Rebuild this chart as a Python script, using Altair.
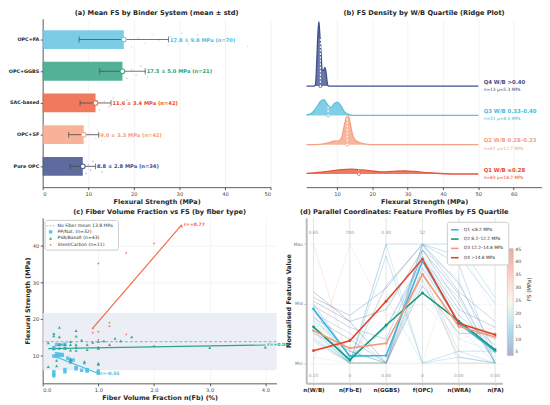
import json
import altair as alt
import pandas as pd

FONT = "DejaVu Sans"
INK = "#262626"
GREY = "#444444"

# ======================= (a) Mean FS by binder =======================
binders = ["OPC+FA", "OPC+GGBS", "SAC-based", "OPC+SF", "Pure OPC"]
binder_mean = [17.8, 17.5, 11.6, 9.0, 8.8]
binder_std = [9.8, 5.0, 3.4, 3.3, 2.8]
binder_n = [70, 21, 42, 42, 34]
binder_fill = ["#6ec6e2", "#3fa98c", "#ef6b4d", "#f7aa8f", "#4d5b95"]
binder_text = ["#52bce0", "#1f9f7d", "#e8492d", "#f59a7b", "#3b4d8c"]

# individual specimens visible beside the bars (MPa)
raw_fa = [19.5, 21.0, 22.5, 24.0, 25.5, 27.5, 28.0, 29.0, 30.5, 31.5, 32.0, 34.0, 40.5, 45.0]
raw_ggbs = [18.5, 19.5, 20.5, 21.5, 22.5, 23.0]
raw_sac = [12.5, 13.5, 14.5, 15.5, 16.5, 17.5, 18.5]
raw_sf = [9.5, 10.5, 11.5, 12.0, 12.5, 13.0]
raw_opc = [9.5, 10.0, 10.5, 11.0, 12.0, 13.0]

# ======================= (b) ridge densities =========================
q_names = ["Q1", "Q2", "Q3", "Q4"]
q_labels = ["Q1  W/B \u22640.28", "Q2  W/B 0.28\u20130.33", "Q3  W/B 0.33\u20130.40", "Q4  W/B >0.40"]
q_sub = ["n=83   \u03bc=18.2 MPa", "n=62   \u03bc=12.7 MPa", "n=51   \u03bc=8.0 MPa", "n=13   \u03bc=5.3 MPa"]
q_colors = ["#e8553a", "#f6a083", "#5cc2e0", "#3e4f8e"]
q_text = ["#e8492d", "#f4a07f", "#46b9dd", "#3b4d8c"]
q1_x = [1.4, 4.7, 8.5, 11.3, 14.1, 16.9, 19.7, 22.5, 25.4, 29.1, 31.9, 35.7, 40.4, 45.0, 50.0]
q1_d = [0.01, 0.025, 0.049, 0.069, 0.074, 0.063, 0.049, 0.034, 0.04, 0.049, 0.04, 0.019, 0.004, 0.0, 0.0]
q2_x = [1.4, 3.7, 6.6, 8.5, 9.4, 10.3, 11.3, 12.0, 12.7, 13.2, 13.7, 14.3, 15.0, 16.4, 18.8, 19.6, 50.0]
q2_d = [0.0, 0.0, 0.015, 0.044, 0.059, 0.054, 0.107, 0.28, 0.43, 0.45, 0.35, 0.18, 0.084, 0.034, 0.004, 0.0, 0.0]
q3_x = [1.4, 2.8, 4.2, 5.4, 6.3, 7.3, 8.3, 9.2, 10.0, 11.1, 12.2, 13.6, 14.9, 50.0]
q3_d = [0.01, 0.034, 0.12, 0.22, 0.245, 0.17, 0.12, 0.18, 0.205, 0.15, 0.05, 0.01, 0.0, 0.0]
q4_x = [1.4, 3.6, 3.94, 4.3, 4.6, 4.88, 5.15, 5.45, 5.82, 6.2, 6.57, 6.9, 7.32, 7.6, 50.0]
q4_d = [0.0, 0.0, 0.03, 0.41, 0.81, 1.0, 0.81, 0.56, 0.25, 0.24, 0.29, 0.22, 0.03, 0.0, 0.0]
q_mark = [16.2, 12.9, 7.5, 5.3]
q_mark_d = [0.065, 0.44, 0.15, 0.74]

# ======================= (c) fibre volume vs FS ======================
no_fiber_mean = 13.8
no_fiber_std = 7.8
pp_x = [0.2, 0.2, 0.2, 0.2, 0.2, 0.2, 0.25, 0.25, 0.25, 0.25, 0.3, 0.3, 0.3, 0.35, 0.35,
        0.4, 0.4, 0.4, 0.4, 0.45, 0.5, 0.5, 0.6, 0.6, 0.7, 0.8, 0.8, 0.8, 1.0, 1.0, 1.0, 0.55]
pp_y = [11.9, 9.9, 5.6, 5.0, 4.5, 12.2, 13.0, 10.5, 10.0, 9.8, 10.4, 10.0, 13.0, 10.3, 10.1,
        13.1, 12.0, 6.2, 5.6, 9.3, 8.9, 8.2, 6.8, 6.4, 6.0, 6.2, 5.8, 6.0, 5.4, 5.8, 5.2, 8.8]
pva_x = [0.1, 0.1, 0.2, 0.2, 0.2, 0.25, 0.25, 0.3, 0.3, 0.3, 0.3, 0.4, 0.4, 0.5, 0.5, 0.5, 0.5, 0.5,
         0.6, 0.6, 0.6, 0.6, 0.6, 0.7, 0.75, 0.75, 0.8, 0.8, 0.9, 1.0, 1.0, 1.0, 1.0, 1.0,
         1.1, 1.2, 1.3, 1.4, 1.6, 2.0, 3.0, 4.0, 0.35]
pva_y = [13.5, 7.0, 16.0, 15.4, 12.0, 8.7, 7.2, 17.7, 15.1, 13.0, 12.0, 13.0, 12.1, 13.8, 13.0, 11.5, 8.5, 9.0,
         16.8, 15.3, 13.0, 11.4, 12.3, 14.2, 8.0, 8.4, 13.0, 11.6, 13.6, 13.8, 12.3, 12.0, 7.9, 7.6,
         14.0, 13.0, 14.7, 14.0, 15.1, 12.7, 12.2, 12.3, 13.1]
st_x = [0.9, 0.9, 1.0, 1.0, 1.0, 1.2, 1.2, 1.5, 1.5, 2.0, 2.5]
st_y = [17.4, 16.2, 35.1, 16.5, 14.3, 19.0, 18.0, 38.0, 15.8, 40.6, 45.2]
fiber_series = ["No Fiber mean  13.8 MPa", "PP/Nat.  (n=32)", "PVA/Basalt  (n=43)", "Steel/Carbon  (n=11)"]
fiber_colors = ["#8f94b8", "#4fc0e6", "#27a385", "#ef5b3b"]
fit_x0 = [0.2, 0.1, 0.9]
fit_x1 = [1.0, 4.0, 2.5]
fit_y0 = [9.9, 11.9, 17.5]
fit_y1 = [5.1, 12.9, 45.7]
fit_r = ["r=-0.55", "r=+0.06", "r=+0.77"]
fit_colors = ["#45b9e0", "#2aa788", "#f0643f"]

# ======================= (d) parallel coordinates ====================
features = ["n(W/B)", "n(Fb-E)", "n(GGBS)", "f(OPC)", "n(WRA)", "n(FA)"]
feat_max = ["0.65", "200", "0.30", "52", "", ""]
feat_min = ["0.15", "0", "0.00", "0", "0.00", "0.00"]
quart_names = ["Q1  \u22648.2 MPa", "Q2  8.2\u201312.2 MPa", "Q3  12.2\u201314.8 MPa", "Q4  >14.8 MPa"]
quart_colors = ["#3cb6df", "#149a78", "#f79877", "#e5432b"]
quart_vals = [
    [0.455, 0.059, 0.064, 0.858, 0.334, 0.099],
    [0.305, 0.027, 0.318, 0.589, 0.353, 0.112],
    [0.273, 0.126, 0.166, 0.746, 0.308, 0.220],
    [0.104, 0.188, 0.519, 0.874, 0.334, 0.238],
]
sample_fs = [6, 5, 8, 12, 14, 16, 18, 20, 11, 15, 9, 7, 32, 30, 19, 22, 13, 17, 10, 24, 13, 4, 28, 12, 15]
sample_vals = [
    [0.55, 0.40, 0.63, 1.00, 0.67, 0.10],
    [0.52, 0.35, 0.45, 0.95, 0.58, 0.00],
    [0.48, 0.30, 0.20, 0.90, 0.45, 0.30],
    [0.45, 0.00, 0.00, 1.00, 0.83, 0.00],
    [0.40, 0.00, 1.00, 1.00, 1.00, 0.55],
    [0.35, 0.00, 1.00, 0.00, 0.05, 0.00],
    [0.30, 0.00, 0.00, 1.00, 0.30, 0.00],
    [0.28, 0.00, 0.00, 0.85, 0.20, 0.10],
    [0.25, 0.10, 0.00, 0.80, 0.35, 0.20],
    [0.22, 0.00, 0.00, 0.75, 0.10, 0.00],
    [0.20, 0.00, 0.65, 1.00, 0.60, 0.35],
    [0.38, 0.20, 0.00, 0.95, 0.50, 0.00],
    [1.00, 0.00, 0.00, 0.80, 0.00, 0.00],
    [0.02, 1.00, 0.40, 0.50, 0.20, 0.30],
    [0.33, 0.00, 0.55, 0.00, 0.00, 0.00],
    [0.30, 0.00, 0.00, 0.00, 1.00, 0.40],
    [0.42, 0.25, 0.00, 0.70, 0.05, 0.00],
    [0.18, 0.00, 0.00, 0.95, 0.70, 0.00],
    [0.50, 0.05, 0.30, 0.88, 0.40, 0.15],
    [0.15, 0.00, 0.00, 1.00, 0.15, 0.05],
    [0.27, 0.00, 0.90, 0.00, 0.10, 0.10],
    [0.60, 0.35, 0.00, 0.65, 0.25, 0.25],
    [0.05, 0.00, 0.00, 0.90, 0.00, 0.00],
    [0.36, 0.10, 0.00, 1.00, 0.90, 0.50],
    [0.25, 0.00, 0.30, 0.85, 0.55, 0.00],
]
fs_domain = [3.8, 9.0, 14.2, 19.4, 24.6, 29.8, 35.0, 40.2, 45.4]
fs_range = ["#2b3f80", "#3a78b4", "#48acd3", "#97d3e3", "#f3efe6", "#f8c2a6", "#f28f6f", "#e4583c", "#cf2f22"]

# ----------------------------------------------------------------------
W_A, W_B, W_C, W_D = 230, 238, 236, 198
H_TOP, H_BOT = 170, 167
IND = dict(color="independent", stroke="independent", shape="independent", size="independent")

# ---------- panel (a) ----------
n_b = len(binders)
dfa = pd.DataFrame({
    "binder": binders,
    "pos": [n_b - 1 - i for i in range(n_b)],
    "mean": binder_mean, "std": binder_std, "n": binder_n, "tcol": binder_text,
})
raw_all = [raw_fa, raw_ggbs, raw_sac, raw_sf, raw_opc]
prow = []
for i, vals in enumerate(raw_all):
    for k, v in enumerate(vals):
        prow.append({"binder": binders[i], "pos": n_b - 1 - i, "v": v, "k": k})
dfp = pd.DataFrame(prow)

names_rev = json.dumps(list(reversed(binders)))
bind_scale = alt.Scale(domain=binders, range=binder_fill)


def xa(field):
    return alt.X(field, scale=alt.Scale(domain=[0, 50], nice=False),
                 axis=alt.Axis(values=[0, 10, 20, 30, 40, 50], title="Flexural Strength (MPa)", grid=True))


def ya(field):
    return alt.Y(field, scale=alt.Scale(domain=[-0.5, 4.5], nice=False, zero=False),
                 axis=alt.Axis(values=[0, 1, 2, 3, 4], labelExpr=names_rev + "[datum.value]", title=None,
                               grid=False, labelFontWeight="bold", labelFontSize=4.9, labelColor=INK))


pts_a = alt.Chart(dfp).transform_calculate(
    yj="datum.pos + ((datum.k * 0.618034) % 1 - 0.5) * 0.45"
).mark_circle(size=3, opacity=0.35).encode(
    x=xa("v:Q"), y=ya("yj:Q"), color=alt.Color("binder:N", scale=bind_scale, legend=None))

base_a = alt.Chart(dfa).transform_calculate(
    zero="0", lo="datum.mean - datum.std", hi="datum.mean + datum.std",
    lab="format(datum.mean, '.1f') + ' \u00b1 ' + format(datum.std, '.1f') + ' MPa  (n=' + datum.n + ')'")
bars = base_a.mark_bar(orient="horizontal", size=19, opacity=0.9).encode(
    x=xa("mean:Q"), x2="zero:Q", y=ya("pos:Q"),
    color=alt.Color("binder:N", scale=bind_scale, legend=None))
err = base_a.mark_rule(color="#4a4a4a", opacity=0.75, strokeWidth=1.1).encode(
    x="lo:Q", x2="hi:Q", y="pos:Q")
cap_lo = base_a.mark_tick(orient="vertical", size=6, thickness=1, color="#4a4a4a").encode(x="lo:Q", y="pos:Q")
cap_hi = base_a.mark_tick(orient="vertical", size=6, thickness=1, color="#4a4a4a").encode(x="hi:Q", y="pos:Q")
means = base_a.mark_point(filled=True, fill="white", size=22, strokeWidth=1.1, opacity=1).encode(
    x="mean:Q", y="pos:Q", stroke=alt.Stroke("binder:N", scale=bind_scale, legend=None))
labs_a = base_a.mark_text(align="left", baseline="middle", dx=1.5, fontSize=5.2, fontWeight="bold").encode(
    x="hi:Q", y="pos:Q", text="lab:N", color=alt.Color("tcol:N", scale=None))

panel_a = alt.layer(pts_a, bars, err, cap_lo, cap_hi, means, labs_a).properties(
    width=W_A, height=H_TOP, title="(a) Mean FS by Binder System  (mean \u00b1 std)")

# ---------- panel (b) ----------
rrows = []
for qi, (xs, ds) in enumerate([(q1_x, q1_d), (q2_x, q2_d), (q3_x, q3_d), (q4_x, q4_d)]):
    for xv, dv in zip(xs, ds):
        rrows.append({"q": q_names[qi], "base": qi, "x": xv, "d": dv})
dfr = pd.DataFrame(rrows)
dfm = pd.DataFrame({"q": q_names, "base": list(range(4)), "m": q_mark, "md": q_mark_d,
                    "lab": q_labels, "sub": q_sub, "tcol": q_text})
RIDGE_K = 2.2
q_scale = alt.Scale(domain=q_names, range=q_colors)
xb = alt.X("x:Q", scale=alt.Scale(domain=[1.3, 68], nice=False, zero=False),
           axis=alt.Axis(values=[10, 20, 30, 40, 50, 60], title="Flexural Strength (MPa)", grid=True))
yb_scale = alt.Scale(domain=[-0.45, 5.3], nice=False, zero=False)

rbase = alt.Chart(dfr).transform_calculate(top="datum.base + datum.d * %s" % RIDGE_K)
r_area = rbase.mark_area(interpolate="monotone", opacity=0.78).encode(
    x=xb, y=alt.Y("top:Q", scale=yb_scale, axis=None), y2="base:Q",
    color=alt.Color("q:N", scale=q_scale, legend=None))
r_line = rbase.mark_line(interpolate="monotone", strokeWidth=1.3).encode(
    x="x:Q", y="top:Q", color=alt.Color("q:N", scale=q_scale, legend=None))
mbase = alt.Chart(dfm).transform_calculate(mtop="datum.base + datum.md * %s" % RIDGE_K, lx="51.5")
r_dash = mbase.mark_rule(color="white", strokeDash=[2, 1.5], strokeWidth=1.1).encode(
    x="m:Q", y="base:Q", y2="mtop:Q")
r_mark = mbase.mark_point(filled=True, fill="white", size=9, strokeWidth=0.8, opacity=1).encode(
    x="m:Q", y="base:Q", stroke=alt.Stroke("q:N", scale=q_scale, legend=None))
r_lab = mbase.mark_text(align="left", baseline="bottom", dy=-1.5, fontSize=5.4, fontWeight="bold").encode(
    x="lx:Q", y="base:Q", text="lab:N", color=alt.Color("tcol:N", scale=None))
r_sub = mbase.mark_text(align="left", baseline="top", dy=2, fontSize=4.4).encode(
    x="lx:Q", y="base:Q", text="sub:N", color=alt.Color("tcol:N", scale=None))

panel_b = alt.layer(r_area, r_line, r_dash, r_mark, r_lab, r_sub).properties(
    width=W_B, height=H_TOP, title="(b) FS Density by W/B Quartile  (Ridge Plot)")

# ---------- panel (c) ----------
crow = []
for s, xs, ys in [(fiber_series[1], pp_x, pp_y), (fiber_series[2], pva_x, pva_y), (fiber_series[3], st_x, st_y)]:
    for xv, yv in zip(xs, ys):
        crow.append({"series": s, "x": xv, "y": yv})
dfc = pd.DataFrame(crow)
frow = []
for i in range(3):
    frow.append({"fid": i, "end": 0, "x": fit_x0[i], "y": fit_y0[i], "fcol": fit_colors[i], "r": fit_r[i]})
    frow.append({"fid": i, "end": 1, "x": fit_x1[i], "y": fit_y1[i], "fcol": fit_colors[i], "r": fit_r[i]})
dff = pd.DataFrame(frow)
dfn = pd.DataFrame({"m": [no_fiber_mean], "lo": [no_fiber_mean - no_fiber_std], "hi": [no_fiber_mean + no_fiber_std]})

xc = alt.X("x:Q", scale=alt.Scale(domain=[0, 4.2], nice=False, zero=False),
           axis=alt.Axis(values=[0, 0.5, 1, 1.5, 2, 2.5, 3, 3.5, 4], format=".1f",
                         title="Fiber Volume Fraction  n(Fb)  (%)", grid=True))
yc_scale = alt.Scale(domain=[2.45, 47.55], nice=False, zero=False)
yc_axis = alt.Axis(values=[10, 20, 30, 40], title="Flexural Strength (MPa)", grid=True)

dash_path = "M-2.2,-0.18H-1.2V0.18H-2.2Z M-0.5,-0.18H0.5V0.18H-0.5Z M1.2,-0.18H2.2V0.18H1.2Z"
star_path = ("M0,-1L0.2245,-0.309L0.9511,-0.309L0.3633,0.118L0.5878,0.809L0,0.382"
             "L-0.5878,0.809L-0.3633,0.118L-0.9511,-0.309L-0.2245,-0.309Z")

band = alt.Chart(dfn).mark_rect(color="#e6e8f1", opacity=0.75).encode(
    x=alt.value(0), x2=alt.value(W_C), y=alt.Y("lo:Q", scale=yc_scale, axis=yc_axis), y2="hi:Q")
nf_rule = alt.Chart(dfn).mark_rule(color=fiber_colors[0], strokeDash=[3, 2], strokeWidth=0.8).encode(y="m:Q")
c_legend = alt.Legend(title=None, orient="top-left", offset=2, fillColor="white", strokeColor="#cccccc",
                      padding=3, cornerRadius=2, labelFontSize=4.6, labelColor="#333333", rowPadding=0.6,
                      labelLimit=200)
c_pts = alt.Chart(dfc).mark_point(filled=True, opacity=0.9).encode(
    x=xc, y=alt.Y("y:Q", scale=yc_scale, axis=yc_axis),
    color=alt.Color("series:N", scale=alt.Scale(domain=fiber_series, range=fiber_colors), legend=c_legend),
    shape=alt.Shape("series:N", scale=alt.Scale(domain=fiber_series,
                                                range=[dash_path, "square", "triangle-up", star_path]),
                    legend=c_legend),
    size=alt.Size("series:N", scale=alt.Scale(domain=fiber_series, range=[14, 8, 4, 24]), legend=c_legend))
c_fit = alt.Chart(dff).mark_line(strokeWidth=1.1).encode(
    x="x:Q", y="y:Q", detail="fid:N", color=alt.Color("fcol:N", scale=None))
c_r = alt.Chart(dff).transform_filter("datum.end == 1").mark_text(
    align="left", baseline="middle", dx=2, fontSize=4.6, fontWeight="bold").encode(
    x="x:Q", y="y:Q", text="r:N", color=alt.Color("fcol:N", scale=None))

panel_c = alt.layer(band, nf_rule, c_fit, c_pts, c_r).properties(
    width=W_C, height=H_BOT, title="(c) Fiber Volume Fraction vs FS  (by fiber type)")

# ---------- panel (d) ----------
srow = []
for sid, (vals, fs) in enumerate(zip(sample_vals, sample_fs)):
    for j, v in enumerate(vals):
        srow.append({"sid": sid, "f": features[j], "v": v, "fs": fs})
dfs = pd.DataFrame(srow)
qrow = []
for qi, vals in enumerate(quart_vals):
    for j, v in enumerate(vals):
        qrow.append({"q": quart_names[qi], "qi": qi, "f": features[j], "v": v, "qcol": quart_colors[qi]})
dfq = pd.DataFrame(qrow)
dft = pd.DataFrame({"f": features, "top": feat_max, "bot": feat_min})
dfcb = pd.DataFrame({"t": ["FS  (MPa)"]})

xd = alt.X("f:N", sort=features, scale=alt.Scale(type="point", domain=features, padding=0.2),
           axis=alt.Axis(title=None, grid=False, labelAngle=0, labelFontWeight="bold", labelFontSize=5.6,
                         labelColor=INK, domainColor="#bbbbbb", domainWidth=2, labelOverlap=False,
                         tickColor="#bbbbbb"))
yd_scale = alt.Scale(domain=[-0.17, 1.22], nice=False, zero=False)
yd_axis = alt.Axis(values=[0, 0.5, 1], labelExpr="datum.value == 0 ? 'Min' : (datum.value == 1 ? 'Max' : 'Mid')",
                   title="Normalised Feature Value", grid=True, gridColor="#f0f0f0", labelFontSize=4.4,
                   labelColor="#777777", domainColor="#bbbbbb", domainWidth=2, tickColor="#bbbbbb")

d_axes = alt.Chart(dft).mark_rule(color="#dddddd", strokeWidth=0.8).encode(x=xd)
d_bg = alt.Chart(dfs).mark_line(strokeWidth=0.7, opacity=0.4).encode(
    x=xd, y=alt.Y("v:Q", scale=yd_scale, axis=yd_axis), detail="sid:N",
    color=alt.Color("fs:Q", scale=alt.Scale(domain=fs_domain, range=fs_range),
                    legend=alt.Legend(title=None, orient="none", legendX=W_D + 5, legendY=31,
                                      direction="vertical", gradientLength=108, gradientThickness=6,
                                      values=[5, 10, 15, 20, 25, 30, 35, 40, 45], labelFontSize=4.6,
                                      labelColor="#444444",
                                      gradientStrokeColor="#555555", gradientStrokeWidth=0.5)))
d_q = alt.Chart(dfq).mark_line(strokeWidth=1.6).encode(
    x=xd, y="v:Q", detail="qi:N",
    color=alt.Color("q:N", scale=alt.Scale(domain=quart_names, range=quart_colors),
                    legend=alt.Legend(title=None, orient="none", legendX=142, legendY=4, symbolType="stroke",
                                      symbolStrokeWidth=1.6, symbolSize=60, fillColor="white",
                                      strokeColor="#cccccc", padding=3, cornerRadius=2, labelFontSize=4.4,
                                      rowPadding=0.4, labelColor="#333333")))
d_qp = alt.Chart(dfq).mark_point(filled=True, size=8, opacity=1).encode(
    x=xd, y="v:Q", color=alt.Color("qcol:N", scale=None))
d_top = alt.Chart(dft).transform_calculate(ty="1.09").mark_text(fontSize=4.4, color="#999999").encode(
    x=xd, y="ty:Q", text="top:N")
d_bot = alt.Chart(dft).transform_calculate(by="-0.11").mark_text(fontSize=4.4, color="#999999").encode(
    x=xd, y="by:Q", text="bot:N")
d_cbt = alt.Chart(dfcb).transform_calculate(cy="0.62").mark_text(
    angle=270, fontSize=5.5, color="#333333").encode(x=alt.value(W_D + 27), y="cy:Q", text="t:N")

panel_d = alt.layer(d_axes, d_bg, d_q, d_qp, d_top, d_bot, d_cbt).resolve_scale(**IND).properties(
    width=W_D, height=H_BOT, title="(d) Parallel Coordinates: Feature Profiles by FS Quartile")

# ---------- assemble ----------
top_row = alt.hconcat(panel_a, panel_b, spacing=36, bounds="flush").resolve_scale(**IND)
bot_row = alt.hconcat(panel_c, panel_d, spacing=30, bounds="flush").resolve_scale(**IND)
chart = alt.vconcat(top_row, bot_row, spacing=3).resolve_scale(**IND).properties(
    padding={"left": 0, "top": 0, "right": 0, "bottom": 0}
).configure(font=FONT).configure_view(stroke=None).configure_axis(
    labelFont=FONT, titleFont=FONT, labelFontSize=5.2, labelColor=GREY, titleFontSize=6.5,
    titleFontWeight="bold", titleColor=INK, domainColor="#333333", tickColor="#333333", tickSize=2.5,
    domainWidth=0.8, tickWidth=0.8, gridColor="#ececec", gridWidth=0.6, titlePadding=2, labelPadding=1.5,
    labelOverlap=False
).configure_title(font=FONT, fontSize=6.7, fontWeight="bold", color=INK, offset=2, anchor="middle"
).configure_legend(labelFont=FONT, titleFont=FONT)

chart.save("out.html", embed_options={"renderer": "svg", "actions": False})
